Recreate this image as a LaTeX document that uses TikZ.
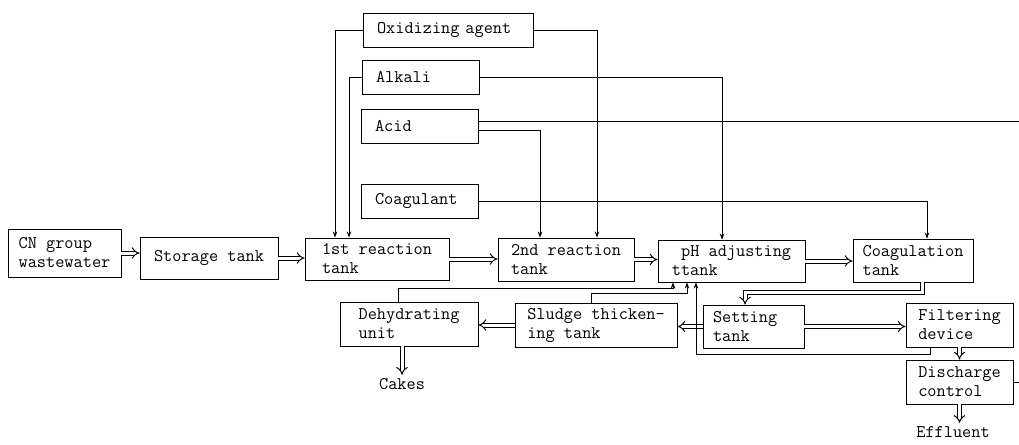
\documentclass[tikz,border=0pt]{standalone}
\usepackage{fontspec}
\usetikzlibrary{arrows.meta,calc}

\begin{document}
\begin{tikzpicture}[x=1pt,y=-1pt,
  every node/.style={font=\ttfamily\fontsize{17.8}{19}\selectfont},
  tank/.style={draw, line width=0.9pt, align=left, minimum height=42pt, inner sep=0pt},
  agent/.style={draw, line width=0.9pt, align=left, minimum height=34pt, inner xsep=14pt, inner ysep=0pt, text width=#1},
  feed/.style={line width=0.8pt, -{Stealth[length=6pt,width=4.5pt]}},
  flow/.style={double, double distance=3pt, line width=1pt, -{Implies}}]
\useasboundingbox (0,0) rectangle (1019,444);

% chemical supply
\node[agent=142pt] (oxid) at (448,30) {Oxidizing agent};
\node[agent=89pt] (alkali) at (420.5,77) {Alkali};
\node[agent=89pt] (acid) at (419.5,126) {Acid};
\node[agent=89pt] (coagent) at (419.5,201) {Coagulant};
\coordinate (rim) at (1019,121);

% treatment line
\node[tank, minimum width=113pt, minimum height=48pt] (cn) at (64.5,253) {CN group\\wastewater};
\node[tank, minimum width=138pt] (store) at (209,258) {Storage tank};
\node[tank, minimum width=144pt] (react1) at (377,259) {1st reaction\\tank};
\node[tank, minimum width=136pt, minimum height=43pt] (react2) at (566,259.5) {2nd reaction\\tank};
\node[tank, minimum width=147pt] (ph) at (731.5,261) {\hspace*{9.3pt}pH adjusting\\ttank};
\node[tank, minimum width=120pt, minimum height=43pt] (coagtank) at (913,260.5) {Coagulation\\tank};

% sludge and effluent side
\node[tank, minimum width=138pt, minimum height=44pt] (dehyd) at (409,324) {Dehydrating\\unit};
\node[tank, minimum width=162pt, minimum height=44pt] (sludge) at (596,325) {Sludge thicken-\\ing tank};
\node[tank, text width=81pt, inner xsep=10pt, minimum height=43pt] (setting) at (753.5,326.5) {Setting\\tank};
\node[tank, minimum width=107pt, minimum height=44pt] (filter) at (959.5,325) {Filtering\\device};
\node[tank, minimum width=107pt, minimum height=44pt] (discharge) at (959.5,382) {Discharge\\control};
\node (cakes) at (402,384) {Cakes};
\node (effluent) at (953,432) {Effluent};

% chemical feeds
\draw[feed] (oxid.west) -| ($(react1.north)+(-42,0)$);
\draw[feed] (oxid.east) -| ($(react2.north)+(31,0)$);
\draw[feed] (alkali.west) -| ($(react1.north)+(-28,0)$);
\draw[feed] (alkali.east) -| ($(ph.north)+(-9.5,0)$);
\draw[feed] ($(acid.east)+(0,4)$) -| ($(react2.north)+(-26,0)$);
\draw[line width=0.8pt] ($(acid.east)+(0,-5)$) -- (rim);
\draw[feed] (coagent.east) -| ($(coagtank.north)+(14,0)$);

% main flow
\draw[flow] (cn.east) -- (cn.east -| store.west);
\draw[flow] (store.east) -- (store.east -| react1.west);
\draw[flow] (react1.east) -- (react1.east -| react2.west);
\draw[flow] (react2.east) -- (react2.east -| ph.west);
\draw[flow] (ph.east) -- (ph.east -| coagtank.west);
\draw[flow] ($(coagtank.south)+(9,0)$) -- ++(0,10) -| ($(setting.north)+(-8.5,0)$);
\draw[flow] (setting.west) -- (setting.west -| sludge.east);
\draw[flow] (sludge.west) -- (sludge.west -| dehyd.east);
\draw[flow] (setting.east) -- (setting.east -| filter.west);
\draw[flow] (filter.south) -- (discharge.north);
\draw[flow] (discharge.south) -- (discharge.south |- effluent.north);
\draw[flow] (cakes.north |- dehyd.south) -- (cakes.north);
\draw[line width=0.8pt] (discharge.east) -- (discharge.east -| rim);

% returns to pH tank
\draw[feed] ($(dehyd.north)+(-11,0)$) -- ++(0,-13) -| ($(ph.south)+(-58.5,0)$);
\draw[feed] ($(sludge.north)+(-5,0)$) -- ++(0,-9) -| ($(ph.south)+(-44.5,0)$);
\draw[feed] ($(filter.south)+(-29.5,0)$) -- ++(0,7) -| ($(ph.south)+(-35.5,0)$);
\end{tikzpicture}
\end{document}
